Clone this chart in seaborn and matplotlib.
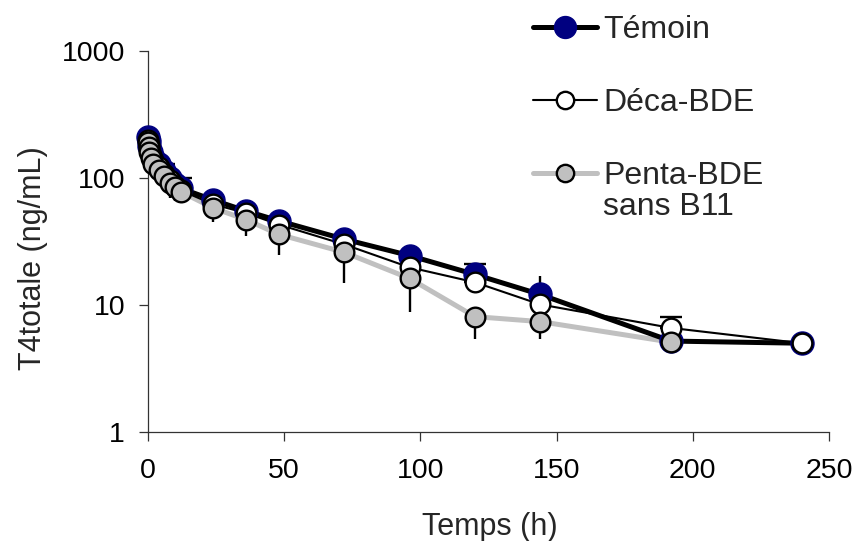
import numpy as np
import pandas as pd
import matplotlib
matplotlib.use("Agg")
import matplotlib.pyplot as plt
from matplotlib.lines import Line2D
import seaborn as sns

# ---- data ----
temps = [0.083, 0.25, 0.5, 1, 2, 4, 6, 8, 10, 12, 24, 36, 48, 72, 96, 120, 144, 192, 240]
temoin = [210, 195, 178, 160, 145, 128, 113, 100, 90, 83, 67, 55, 46, 33, 24.5, 17.4, 12.1, 5.2, 5.0]
deca = [200, 183, 168, 152, 138, 122, 108, 96, 87, 80, 62, 53, 43, 30, 19.8, 15.1, 10.1, 6.6, 5.0]
temps_penta = [0.083, 0.25, 0.5, 1, 2, 4, 6, 8, 10, 12, 24, 36, 48, 72, 96, 120, 144, 192]
penta = [193, 175, 160, 145, 130, 115, 103, 92, 85, 78, 58, 47, 36, 26, 16.2, 8.1, 7.4, 5.1]

# error bars (upper for Témoin/Déca, lower for Penta)
temoin_err_t = [144]
temoin_err_up = [16.8]
deca_err_t = [6, 12, 120, 192]
deca_err_up = [128, 100, 21.2, 8.0]
penta_err_t = [8, 10, 12, 24, 36, 48, 72, 96, 120, 144]
penta_err_low = [70, 66, 63, 45, 35, 24.6, 15, 8.8, 5.4, 5.4]

labels = ["Témoin", "Déca-BDE", "Penta-BDE"]
label_extra = "sans B11"
yticks = [1, 10, 100, 1000]
xticks = [0, 50, 100, 150, 200, 250]

sns.set_style("ticks")
plt.rcParams["font.family"] = ["Liberation Sans", "DejaVu Sans"]

W, H = 857, 541
fig = plt.figure(figsize=(W / 100, H / 100), dpi=100)
ax = fig.add_axes([148 / W, 1 - 432 / H, (829 - 148) / W, (432 - 51) / H])

NAVY = "#000080"
GREY = "#c0c0c0"

df_t = pd.DataFrame({"t": temps, "v": temoin})
df_d = pd.DataFrame({"t": temps, "v": deca})
df_p = pd.DataFrame({"t": temps_penta, "v": penta})

# lines
sns.lineplot(data=df_p, x="t", y="v", ax=ax, color=GREY, lw=3.6, zorder=2,
             estimator=None, sort=False, legend=False)
sns.lineplot(data=df_t, x="t", y="v", ax=ax, color="black", lw=3.6, zorder=3,
             estimator=None, sort=False, legend=False)
sns.lineplot(data=df_d, x="t", y="v", ax=ax, color="black", lw=1.5, zorder=4,
             estimator=None, sort=False, legend=False)

# error bars
def up_err(ts, ups, vals_t, vals):
    base = [vals[vals_t.index(t)] for t in ts]
    return base, [np.zeros(len(ts)), np.array(ups) - np.array(base)]

b, e = up_err(temoin_err_t, temoin_err_up, temps, temoin)
ax.errorbar(temoin_err_t, b, yerr=e, fmt="none", ecolor="black", elinewidth=1.7,
            capsize=0, zorder=2.5)
b, e = up_err(deca_err_t, deca_err_up, temps, deca)
ax.errorbar(deca_err_t, b, yerr=e, fmt="none", ecolor="black", elinewidth=1.7,
            capsize=8, capthick=1.7, zorder=2.5)
base = [penta[temps_penta.index(t)] for t in penta_err_t]
e = [np.array(base) - np.array(penta_err_low), np.zeros(len(base))]
ax.errorbar(penta_err_t, base, yerr=e, fmt="none", ecolor="black", elinewidth=1.7,
            capsize=0, zorder=2.5)

# markers
sns.scatterplot(data=df_t, x="t", y="v", ax=ax, color=NAVY, edgecolor=NAVY,
                s=275, linewidth=1.0, zorder=5, legend=False)
sns.scatterplot(data=df_d, x="t", y="v", ax=ax, color="white", edgecolor="black",
                s=200, linewidth=1.7, zorder=6, legend=False)
sns.scatterplot(data=df_p, x="t", y="v", ax=ax, color=GREY, edgecolor="black",
                s=200, linewidth=1.7, zorder=7, legend=False)
for c in ax.collections:
    c.set_clip_on(False)

ax.set_yscale("log")
ax.set_ylim(1, 1000)
ax.set_xlim(0, 250)
ax.set_yticks(yticks)
ax.set_yticklabels([str(v) for v in yticks])
ax.yaxis.set_minor_locator(matplotlib.ticker.NullLocator())
ax.set_xticks(xticks)
ax.set_xticklabels([str(v) for v in xticks])

for s in ["top", "right"]:
    ax.spines[s].set_visible(False)
for s in ["left", "bottom"]:
    ax.spines[s].set_color("#333333")
    ax.spines[s].set_linewidth(0.9)
ax.tick_params(axis="both", direction="out", length=6.5, width=0.9, color="#333333",
               labelsize=20.5, labelcolor="black")
ax.tick_params(axis="y", pad=10)
ax.tick_params(axis="x", pad=12)

ax.set_xlabel("Temps (h)", fontsize=22, ha="center", va="center")
ax.xaxis.set_label_coords((490 - 148) / 681, (432 - 527) / 381)
ax.set_ylabel("T4totale (ng/mL)", fontsize=22, ha="center", va="center")
ax.yaxis.set_label_coords((33 - 148) / 681, (432 - 258) / 381)

handles = [
    Line2D([0], [0], color="black", lw=3.6, marker="o", ms=15.8, mfc=NAVY, mec=NAVY),
    Line2D([0], [0], color="black", lw=1.5, marker="o", ms=12.5, mfc="white", mec="black", mew=1.7),
    Line2D([0], [0], color=GREY, lw=3.6, marker="o", ms=12.5, mfc=GREY, mec="black", mew=1.7),
]
fig.legend(handles, labels, loc="upper left",
           bbox_to_anchor=(533 / W, 1 - 15 / H), frameon=False, fontsize=23,
           handlelength=2.0, handletextpad=0.19, labelspacing=1.35,
           borderpad=0, borderaxespad=0)
fig.text(603 / W, 1 - 207 / H, label_extra, fontsize=23, ha="left", va="center")

fig.savefig("out.png", dpi=100)
